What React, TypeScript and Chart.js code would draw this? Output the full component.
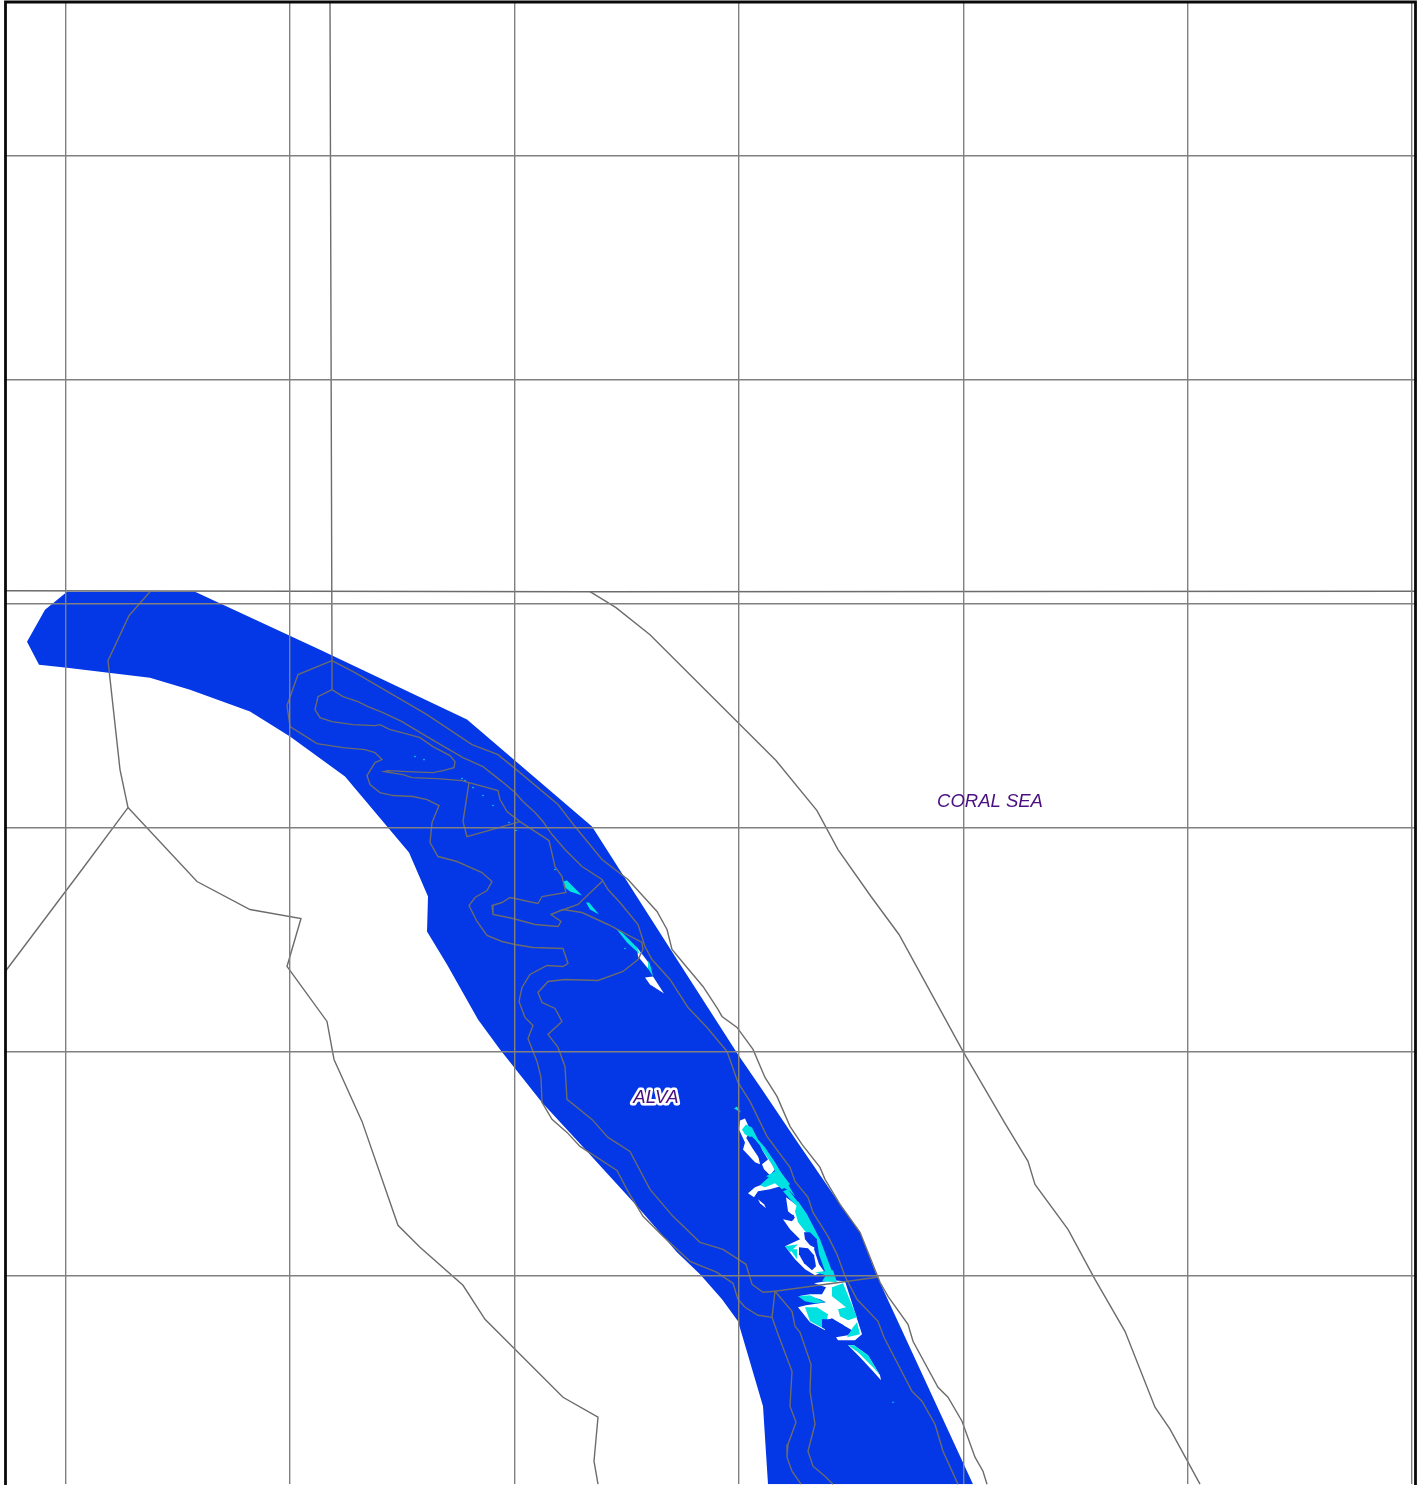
import React, { useEffect, useRef } from "react";
import { Chart, registerables } from "chart.js";

Chart.register(...registerables);

type P = [number, number];

// Map units
const gridEast = [65.5, 290, 514.5, 739, 963.5, 1187.5, 1412];
const gridNorth = [156, 380, 604, 828.5, 1052.5, 1276.5];

const WATER = "#0437e6";
const SHOAL = "#00e2e2";
const DRY = "#ffffff";
const LINE = "#6c6c6c";

const zoneAlva: P[] = [[67,592],[195,592],[320,650],[467,720],[592,827],[677,960],[738,1055],[762,1090],[797,1142],[840,1205],[860,1233],[877,1277],[973,1485],[768,1485],[763,1407],[738,1322],[722,1300],[700,1275],[677,1253],[638,1208],[578,1142],[542,1103],[500,1050],[478,1020],[447,965],[427,932],[428,897],[409,853],[345,777],[290,737],[250,712],[190,690],[150,678],[67,668],[39,665],[27,642],[45,610]];

const dryPatches: P[][] = [
  [[740,1121],[745,1119],[750,1130],[747,1137],[752,1146],[757,1150],[760,1165],[755,1163],[743,1150],[745,1143],[739,1130]],
  [[758,1142],[775,1170],[770,1176],[764,1170],[762,1165],[768,1160],[760,1147]],
  [[748,1194],[755,1188],[768,1183],[780,1178],[784,1186],[770,1190],[758,1192],[754,1198]],
  [[758,1200],[764,1205],[766,1209],[760,1204]],
  [[786,1198],[797,1206],[799,1222],[807,1232],[817,1240],[814,1250],[819,1265],[824,1272],[815,1276],[805,1270],[795,1260],[785,1247],[800,1240],[790,1230],[783,1220],[792,1222],[795,1218],[788,1212]],
  [[814,1284],[832,1281],[845,1282],[862,1335],[855,1341],[838,1341],[836,1338],[848,1336],[852,1331],[840,1324],[832,1319],[824,1322],[825,1331],[810,1323],[798,1308],[806,1306],[826,1303],[820,1300],[808,1297],[798,1297],[810,1295],[822,1295],[826,1288]],
  [[848,1346],[854,1346],[868,1356],[880,1376],[881,1381],[873,1372],[860,1358]],
  [[645,978],[653,977],[664,994],[650,985]],
  [[637,948],[650,965],[648,969],[638,957]],
];

const shoalPatches: P[][] = [
  [[734,1109],[737,1107],[741,1113]],
  [[563,882],[567,881],[582,896],[570,892],[565,888]],
  [[586,903],[589,903],[599,915],[590,910]],
  [[616,929],[622,933],[637,948],[640,955],[627,943]],
  [[648,961],[651,968],[653,977],[648,969]],
  [[746,1125],[752,1128],[758,1140],[765,1148],[775,1163],[785,1180],[795,1197],[790,1192],[783,1188],[775,1180],[766,1177],[775,1172],[772,1165],[762,1150],[755,1140],[745,1135],[742,1130]],
  [[760,1186],[772,1175],[780,1172],[790,1185],[782,1190],[775,1184],[765,1188]],
  [[783,1192],[788,1190],[802,1208],[798,1208],[790,1200]],
  [[798,1202],[807,1215],[820,1240],[832,1272],[825,1272],[819,1255],[817,1242],[805,1232],[798,1223],[795,1212]],
  [[815,1273],[833,1271],[837,1283],[822,1282],[826,1276]],
  [[785,1247],[798,1245],[790,1253]],
  [[790,1250],[797,1250],[797,1260]],
  [[832,1288],[843,1284],[857,1318],[848,1321],[840,1317],[838,1310],[846,1308],[832,1297]],
  [[805,1308],[817,1308],[828,1315],[825,1330],[810,1322]],
  [[798,1297],[810,1296],[825,1303],[815,1304],[805,1302]],
  [[857,1323],[860,1335],[847,1338],[850,1333],[853,1328]],
  [[848,1346],[854,1346],[868,1356],[880,1376],[874,1369],[866,1361],[858,1353]],
];

const deepHoles: P[][] = [
  [[746,1138],[752,1137],[760,1146],[766,1160],[760,1160],[752,1148]],
  [[804,1233],[810,1233],[817,1240],[816,1249],[810,1246],[805,1240]],
  [[799,1248],[808,1249],[814,1256],[816,1267],[812,1271],[804,1264],[799,1255]],
  [[788,1214],[794,1216],[794,1220],[789,1220]],
  [[822,1320],[832,1320],[842,1325],[850,1333],[845,1335],[835,1335],[828,1332],[822,1328]],
];

const shoalSpecks: P[] = [[462,779],[465,781],[493,806],[509,823],[516,831],[555,870],[415,757],[424,760],[473,788],[483,796],[893,1403],[625,949]];

const outlines: P[][] = [
  [[330,2],[332,660],[332,690]],
  [[5,591],[590,592],[1415,591.5]],
  [[150,592],[129,616],[108,661],[120,770],[128,808],[82,870],[6,971]],
  [[128,808],[197,882],[250,910],[301,919],[287,967],[327,1022],[334,1060],[362,1122],[398,1226],[420,1248],[463,1286],[485,1320],[563,1398],[598,1418],[594,1462],[598,1485]],
  [[590,592],[616,608],[650,635],[776,761],[817,811],[838,850],[871,897],[899,935],[963,1052],[1005,1124],[1028,1162],[1035,1185],[1068,1230],[1095,1280],[1125,1332],[1155,1408],[1170,1430],[1200,1485]],
  [[332,661],[298,675],[287,706],[290,727],[317,744],[343,748],[365,750],[375,753],[382,760],[375,763],[367,776],[370,785],[380,793],[393,796],[413,797],[427,800],[439,806],[432,823],[430,843],[438,857],[457,862],[482,873],[492,882],[487,891],[475,898],[469,906],[477,922],[487,936],[502,942],[515,945],[533,948],[563,949],[568,964],[563,967],[547,966],[530,975],[522,988],[519,1002],[525,1018],[533,1026],[528,1039],[537,1062],[541,1078],[542,1103],[552,1120],[567,1133],[580,1147],[597,1158],[617,1171],[628,1192],[643,1217],[663,1237],[690,1262],[717,1273],[733,1284],[738,1300],[745,1308],[758,1316],[772,1318],[778,1335],[792,1372],[790,1407],[796,1423],[788,1445],[787,1458],[792,1472],[801,1485]],
  [[772,1318],[775,1292],[792,1312],[795,1327],[800,1333],[811,1365],[810,1392],[815,1425],[808,1452],[813,1467],[825,1477],[833,1485]],
  [[332,690],[318,697],[315,710],[320,718],[332,722],[353,725],[375,726],[380,725],[390,730],[402,733],[420,738],[433,747],[450,756],[455,762],[454,768],[443,771],[433,773],[407,772],[388,771],[384,772],[403,775],[412,778],[437,779],[462,781],[469,783],[498,791],[500,800],[507,812],[520,822],[549,841],[555,867],[562,877],[566,893],[542,897],[538,904],[510,898],[502,903],[492,906],[493,915],[513,919],[535,925],[558,927],[561,922],[551,915],[563,910],[582,913],[608,925],[642,943],[643,950],[638,960],[623,972],[598,981],[565,980],[548,982],[538,993],[542,1003],[555,1009],[562,1022],[548,1035],[558,1048],[565,1067],[567,1100],[592,1120],[608,1138],[630,1152],[650,1190],[673,1217],[700,1243],[723,1250],[746,1265],[752,1285],[763,1293],[775,1292],[877,1278]],
  [[332,661],[355,673],[427,715],[472,745],[498,755],[520,773],[558,805],[575,827],[602,860],[628,880],[657,912],[667,930],[672,950],[687,968],[703,987],[718,1010],[722,1017],[737,1028],[753,1050],[765,1078],[777,1097],[790,1127],[802,1145],[820,1168],[825,1180],[840,1205],[860,1233],[880,1283],[888,1297],[908,1325],[913,1342],[938,1388],[948,1398],[962,1422],[975,1458],[983,1472],[987,1485]],
  [[332,690],[343,697],[358,702],[368,707],[383,713],[402,722],[427,737],[463,758],[483,767],[502,782],[515,793],[523,802],[535,813],[543,822],[552,835],[565,850],[582,867],[602,880],[608,890],[620,903],[638,925],[645,947],[652,960],[670,980],[688,1008],[707,1028],[727,1052],[738,1083],[750,1102],[767,1137],[790,1168],[795,1182],[808,1198],[813,1213],[828,1237],[837,1255],[845,1277],[857,1300],[878,1322],[884,1338],[912,1392],[922,1402],[935,1425],[943,1452],[958,1485]],
  [[469,783],[463,822],[467,837],[520,822]],
  [[603,881],[578,905],[561,911]],
];

const frameLine: P[] = [[5.5,1486],[5.5,2],[1415.5,2],[1415.5,1486]];

const placeNames = ["CORAL SEA", "ALVA"];
const placeEast = [990, 656];
const placeNorth = [802, 1098];
const placeHalo = [false, true];

const pts = (a: P[]) => a.map(([x, y]) => ({ x, y }));

const poly = (a: P[], color: string) => ({
  data: pts(a),
  showLine: true,
  fill: "shape" as const,
  backgroundColor: color,
  borderColor: color,
  borderWidth: 0,
  pointRadius: 0,
  pointHoverRadius: 0,
  tension: 0,
});

const path = (a: P[], color: string, width: number) => ({
  data: pts(a),
  showLine: true,
  fill: false,
  borderColor: color,
  borderWidth: width,
  pointRadius: 0,
  pointHoverRadius: 0,
  tension: 0,
  clip: false as const,
});

const labelsPlugin = {
  id: "placeLabels",
  afterDraw(chart: any) {
    const { ctx, scales } = chart;
    const px = ([x, y]: P): P => [scales.x.getPixelForValue(x), scales.y.getPixelForValue(y)];
    ctx.save();
    ctx.strokeStyle = "#0a0a0a";
    ctx.lineWidth = 2.8;
    ctx.beginPath();
    frameLine.forEach((p, i) => {
      const [x, y] = px(p);
      if (i === 0) ctx.moveTo(x, y);
      else ctx.lineTo(x, y);
    });
    ctx.stroke();
    ctx.font = "italic 18.5px 'Liberation Sans'";
    ctx.textAlign = "center";
    ctx.textBaseline = "middle";
    placeNames.forEach((name, i) => {
      const [x, y] = px([placeEast[i], placeNorth[i]]);
      if (placeHalo[i]) {
        ctx.strokeStyle = "#ffffff";
        ctx.lineWidth = 5;
        ctx.lineJoin = "round";
        ctx.strokeText(name, x, y);
      }
      ctx.fillStyle = "#4a0f80";
      ctx.fillText(name, x, y);
    });
    ctx.restore();
  },
};

export default function App() {
  const ref = useRef<HTMLCanvasElement>(null);
  useEffect(() => {
    const layers: any[] = [
      poly(zoneAlva, WATER),
      ...dryPatches.map((p) => poly(p, DRY)),
      ...shoalPatches.map((p) => poly(p, SHOAL)),
      ...deepHoles.map((p) => poly(p, WATER)),
      {
        data: pts(shoalSpecks),
        showLine: false,
        pointRadius: 0.8,
        pointHoverRadius: 0.8,
        pointBorderWidth: 0,
        pointBackgroundColor: SHOAL,
      },
      ...outlines.map((p) => path(p, LINE, 1.4)),
    ];
    // first layer painted first: chart.js paints the highest order first
    layers.forEach((d, i) => (d.order = layers.length - i));
    const chart = new Chart(ref.current!, {
      type: "scatter",
      data: { datasets: layers },
      options: {
        animation: false,
        responsive: false,
        devicePixelRatio: 1,
        layout: { padding: { left: 4, right: 6, top: 1, bottom: 0 } },
        plugins: { legend: { display: false }, tooltip: { enabled: false } },
        scales: {
          x: {
            type: "linear",
            min: 4,
            max: 1417,
            afterBuildTicks: (s: any) => {
              s.ticks = gridEast.map((value) => ({ value }));
            },
            ticks: { display: false },
            border: { display: false },
            grid: { color: "#808080", lineWidth: 1.4, z: 1, drawTicks: false },
          },
          y: {
            type: "linear",
            reverse: true,
            min: 1,
            max: 1485,
            afterBuildTicks: (s: any) => {
              s.ticks = gridNorth.map((value) => ({ value }));
            },
            ticks: { display: false },
            border: { display: false },
            grid: { color: "#808080", lineWidth: 1.4, z: 1, drawTicks: false },
          },
        },
      } as any,
      plugins: [labelsPlugin],
    });
    return () => chart.destroy();
  }, []);
  return (
    <div style={{ position: "absolute", left: 0, top: 0, width: 1423, height: 1485, background: "#fff" }}>
      <canvas ref={ref} width={1423} height={1485} style={{ display: "block" }} />
    </div>
  );
}
